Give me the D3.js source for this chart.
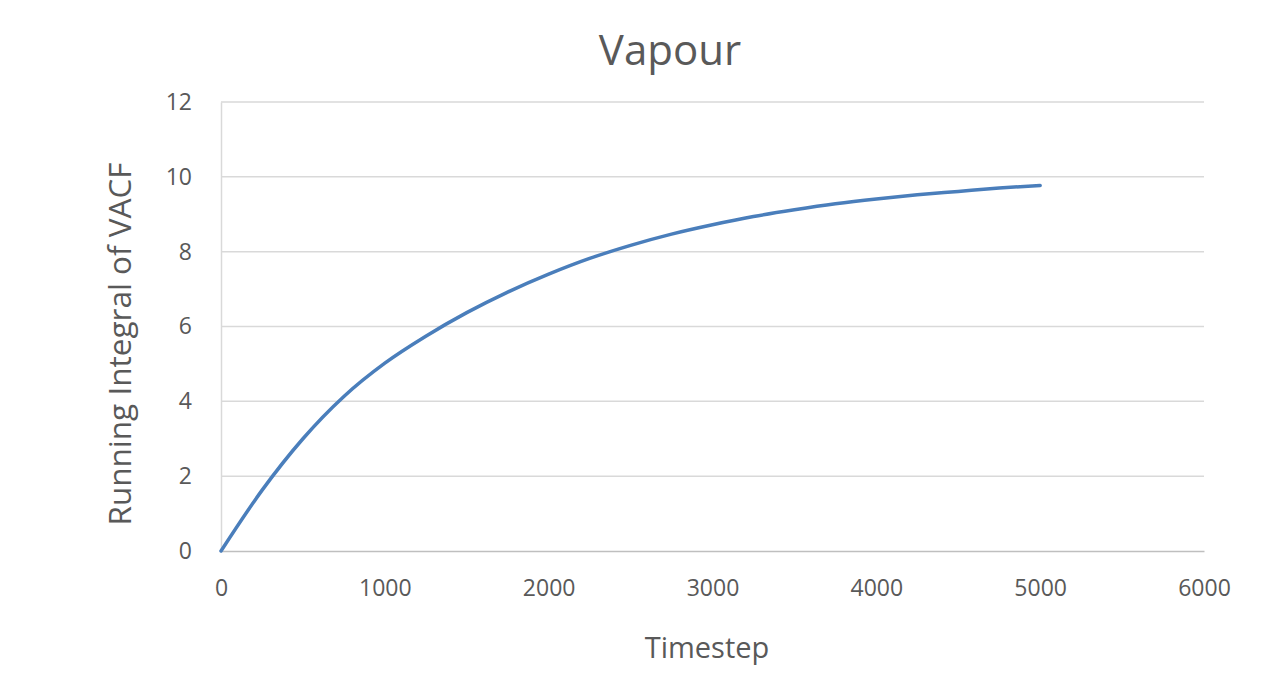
<!DOCTYPE html>
<html>
<head>
<meta charset="utf-8">
<script src="https://cdn.jsdelivr.net/npm/d3@7"></script>
<style>
  html, body { margin: 0; padding: 0; background: #fff; }
  svg { display: block; }
</style>
</head>
<body>
<svg id="chart" width="1288" height="683"></svg>
<script>
const timesteps = [0, 250, 500, 750, 1000, 1250, 1500, 1750, 2000, 2250, 2500, 2750, 3000, 3250, 3500, 3750, 4000, 4250, 4500, 4750, 5000];
const vacfIntegral = [0, 1.62, 3.00, 4.13, 5.02, 5.74, 6.37, 6.92, 7.40, 7.82, 8.17, 8.47, 8.72, 8.94, 9.12, 9.28, 9.41, 9.52, 9.61, 9.70, 9.77];
const xTicks = [0, 1000, 2000, 3000, 4000, 5000, 6000];
const yTicks = [0, 2, 4, 6, 8, 10, 12];
const titleText = "Vapour";
const xTitle = "Timestep";
const yTitle = "Running Integral of VACF";

const svg = d3.select("#chart");
const m = { left: 221, right: 1204, top: 102, bottom: 551 };
const x = d3.scaleLinear().domain([0, 6000]).range([m.left, m.right]);
const y = d3.scaleLinear().domain([0, 12]).range([m.bottom, m.top]);
const font = "'Open Sans', 'Noto Sans', sans-serif";

// gridlines
svg.append("g").selectAll("line").data(yTicks.filter(d => d > 0)).join("line")
  .attr("x1", m.left).attr("x2", m.right)
  .attr("y1", d => y(d)).attr("y2", d => y(d))
  .attr("stroke", "#d9d9d9").attr("stroke-width", 1.5);

// axes
const xAxis = d3.axisBottom(x).tickValues(xTicks).tickFormat(d3.format("d")).tickSize(0).tickPadding(29);
const gx = svg.append("g").attr("transform", `translate(0,${m.bottom})`).call(xAxis);
gx.select(".domain").attr("stroke", "#bfbfbf").attr("stroke-width", 1.5);
gx.selectAll("text").attr("fill", "#595959").style("font-family", font).style("font-size", "23px");

const yAxis = d3.axisLeft(y).tickValues(yTicks).tickFormat(d3.format("d")).tickSize(0).tickPadding(29);
const gy = svg.append("g").attr("transform", `translate(${m.left},0)`).call(yAxis);
gy.select(".domain").attr("stroke", "#d9d9d9").attr("stroke-width", 1.5);
gy.selectAll("text").attr("fill", "#595959").style("font-family", font).style("font-size", "23px");

// line
const line = d3.line()
  .x((d, i) => x(timesteps[i]))
  .y(d => y(d))
  .curve(d3.curveMonotoneX);
svg.append("path").datum(vacfIntegral)
  .attr("d", line)
  .attr("fill", "none")
  .attr("stroke", "#4a7ebb")
  .attr("stroke-width", 3.5)
  .attr("stroke-linecap", "round");

// titles
svg.append("text").attr("x", 670).attr("y", 65).attr("text-anchor", "middle")
  .attr("fill", "#595959").style("font-family", font).style("font-size", "42px").text(titleText);
svg.append("text").attr("x", 707).attr("y", 658).attr("text-anchor", "middle")
  .attr("fill", "#595959").style("font-family", font).style("font-size", "29px").text(xTitle);
svg.append("text").attr("transform", "translate(131,344) rotate(-90)").attr("text-anchor", "middle")
  .attr("fill", "#595959").style("font-family", font).style("font-size", "31.5px").text(yTitle);
</script>
</body>
</html>
